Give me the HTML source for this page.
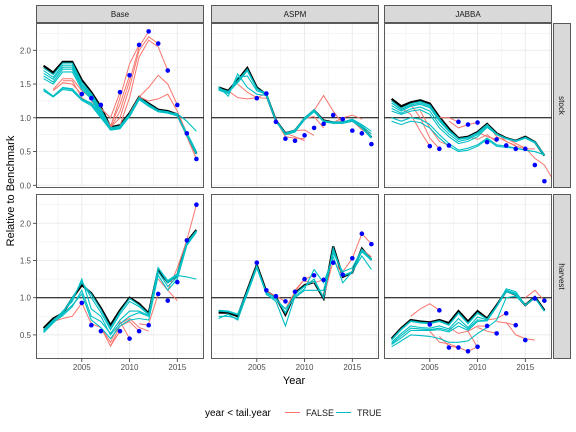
<!DOCTYPE html>
<html><head><meta charset="utf-8"><style>
body{margin:0;background:#fff;}
svg{display:block;font-family:"Liberation Sans",sans-serif;}
</style></head><body>
<svg id="chart" width="576" height="432" viewBox="0 0 576 432"></svg>
<script>
const years=[2001,2002,2003,2004,2005,2006,2007,2008,2009,2010,2011,2012,2013,2014,2015,2016,2017];
const colLabels=["Base","ASPM","JABBA"];
const rowLabels=["stock","harvest"];
const xTicks=[2005,2010,2015];
const yTicksStock=[0.0,0.5,1.0,1.5,2.0];
const yTicksHarvest=[0.5,1.0,1.5,2.0];

// Base stock
const baseStockBlack=[1.77,1.67,1.83,1.83,1.56,1.38,1.16,0.86,0.89,1.07,1.31,1.21,1.12,1.10,1.05,0.75,0.47];
const baseStockTeal=[
[1.74,1.64,1.81,1.81,1.53,1.36,1.13,0.85,0.88,1.06,1.30,1.20,1.11,1.09,1.04,0.74,0.46],
[1.70,1.60,1.78,1.78,1.50,1.34,1.10,0.84,0.86,1.05,1.29,1.19,1.11,1.09,1.04,0.74,0.46],
[1.66,1.57,1.75,1.75,1.48,1.32,1.08,0.83,0.85,1.04,1.29,1.19,1.10,1.08,1.04,0.75,0.47],
[1.62,1.53,1.72,1.72,1.45,1.30,1.05,0.82,0.84,1.03,1.28,1.18,1.10,1.08,1.03,0.75,0.47],
[1.58,1.50,1.68,1.68,1.42,1.28,1.03,0.82,0.84,1.03,1.28,1.18,1.10,1.08,1.03,0.75,0.47],
[1.43,1.32,1.45,1.43,1.28,1.22,1.05,0.83,0.85,1.03,1.28,1.18,1.10,1.08,1.06,0.95,0.80],
[1.42,1.32,1.44,1.42,1.27,1.20,1.02,0.82,0.85,1.02,1.27,1.17,1.09,1.07,1.03,0.78,0.50],
[1.40,1.31,1.42,1.40,1.26,1.18,1.00,0.82,0.84,1.02,1.27,1.17,1.09,1.07,1.03,0.78,0.50]];
const baseStockRedStart=[2002,2002,2003,2006,2006,2007,2007,2008,2009,2010,2011,2014];
const baseStockRed=[
[1.40,1.52,1.50,1.35],[1.42,1.58,1.58,1.40,1.29],[1.55,1.55,1.30,1.20,1.19],
[1.25,1.14,1.00,1.38],[1.25,1.10,0.88,1.20,1.63],[1.10,0.86,1.30,1.80,2.08],
[1.10,0.85,1.10,1.55,2.05,2.28],[0.86,1.00,1.45,2.00,2.20,2.10],[0.89,1.30,1.90,2.15,2.05,1.70],
[1.07,1.31,1.45,1.63,1.50,1.19],[1.31,1.25,1.28,1.35,1.10,0.77],[1.08,1.03,0.72,0.39]];
const baseStockPtYear=[2005,2006,2007,2009,2010,2011,2012,2013,2014,2015,2016,2017];
const baseStockPtVal=[1.35,1.29,1.19,1.38,1.63,2.08,2.28,2.10,1.70,1.19,0.77,0.39];

// ASPM stock
const aspmStockBlack=[1.45,1.40,1.56,1.74,1.45,1.34,0.96,0.77,0.81,0.99,1.11,0.96,0.93,0.93,0.96,0.86,0.71];
const aspmStockTeal=[
[1.44,1.39,1.55,1.72,1.44,1.33,0.95,0.76,0.80,0.98,1.10,0.95,0.92,0.92,0.95,0.85,0.70],
[1.43,1.37,1.53,1.70,1.43,1.33,0.95,0.76,0.80,0.98,1.09,0.95,0.92,0.92,0.95,0.85,0.70],
[1.46,1.32,1.65,1.45,1.35,1.33,0.95,0.75,0.79,0.97,1.09,0.94,0.92,0.93,0.97,0.88,0.76],
[1.42,1.38,1.52,1.70,1.43,1.36,0.96,0.77,0.82,1.00,1.12,0.95,0.94,0.94,0.96,0.86,0.72],
[1.41,1.36,1.60,1.62,1.40,1.35,0.96,0.77,0.81,0.99,1.10,0.96,0.93,0.94,0.98,0.90,0.80]];
const aspmStockRedStart=[2002,2003,2007,2008,2009,2010,2011,2013,2015];
const aspmStockRed=[
[1.40,1.30,1.28,1.30,1.29],[1.50,1.38,1.30,1.36],[0.96,0.72,0.70,0.69],[0.77,0.72,0.66],
[0.81,0.82,0.74],[0.99,1.02,0.85],[1.11,1.33,1.10,0.91],[0.93,1.00,1.04,0.98],[0.96,0.82,0.77]];
const aspmStockPtYear=[2005,2006,2007,2008,2009,2010,2011,2012,2013,2014,2015,2016,2017];
const aspmStockPtVal=[1.29,1.36,0.94,0.69,0.66,0.74,0.85,0.91,1.04,0.98,0.81,0.77,0.61];

// JABBA stock
const jabbaStockBlack=[1.28,1.17,1.23,1.26,1.21,1.01,0.84,0.70,0.72,0.79,0.91,0.77,0.70,0.66,0.72,0.64,0.44];
const jabbaStockTeal=[
[1.25,1.14,1.21,1.24,1.19,0.99,0.82,0.69,0.71,0.78,0.90,0.76,0.69,0.66,0.71,0.64,0.45],
[1.22,1.12,1.19,1.22,1.17,0.97,0.81,0.69,0.71,0.78,0.90,0.76,0.69,0.66,0.71,0.64,0.45],
[1.18,1.10,1.17,1.20,1.15,0.95,0.80,0.68,0.70,0.77,0.89,0.76,0.70,0.66,0.70,0.64,0.45],
[1.14,1.07,1.13,1.16,1.10,0.90,0.76,0.65,0.68,0.75,0.88,0.75,0.69,0.65,0.70,0.63,0.44],
[1.10,1.05,1.10,1.12,1.05,0.85,0.72,0.62,0.65,0.72,0.86,0.75,0.69,0.65,0.70,0.63,0.44],
[1.00,0.95,1.00,0.98,0.90,0.75,0.62,0.52,0.55,0.60,0.70,0.60,0.58,0.55,0.52,0.50,0.45],
[0.95,0.90,0.95,0.93,0.85,0.70,0.58,0.50,0.52,0.58,0.68,0.58,0.56,0.55,0.52,0.50,0.45]];
const jabbaStockRedStart=[2002,2003,2004,2006,2007,2009,2010,2011,2012,2013];
const jabbaStockRed=[
[1.15,1.05,0.80,0.58],[1.20,1.00,0.70,0.54],[1.10,0.85,0.65,0.59],[1.00,1.00,0.94],
[0.95,0.85,0.90,0.93],[0.72,0.68,0.75,0.64],[0.79,0.72,0.68],[0.91,0.72,0.65,0.59],
[0.77,0.65,0.58,0.54,0.54],[0.70,0.62,0.55,0.40,0.30,0.06]];
const jabbaStockPtYear=[2005,2006,2007,2008,2009,2010,2011,2012,2013,2014,2015,2016,2017];
const jabbaStockPtVal=[0.58,0.54,0.59,0.94,0.90,0.93,0.64,0.68,0.59,0.54,0.54,0.30,0.06];

// Base harvest
const baseHarvBlack=[0.59,0.72,0.79,0.99,1.17,1.06,0.86,0.63,0.83,1.00,0.92,0.79,1.37,1.21,1.30,1.75,1.91];
const baseHarvTeal=[
[0.57,0.70,0.80,1.00,1.20,1.05,0.84,0.60,0.81,0.99,0.90,0.78,1.40,1.23,1.32,1.74,1.90],
[0.56,0.69,0.79,0.98,1.22,1.00,0.80,0.57,0.78,0.95,0.88,0.77,1.40,1.22,1.31,1.74,1.90],
[0.55,0.68,0.82,0.95,1.25,0.85,0.75,0.50,0.65,0.75,0.80,0.75,1.40,1.20,1.30,1.28,1.25],
[0.53,0.66,0.78,0.90,1.05,0.70,0.60,0.45,0.62,0.70,0.72,0.70,1.30,1.10,1.25,1.70,1.88],
[0.54,0.67,0.76,0.88,1.10,0.75,0.68,0.52,0.70,0.82,0.82,0.76,1.35,1.15,1.28,1.72,1.89]];
const baseHarvRedStart=[2002,2005,2007,2008,2009,2011,2012,2013,2014];
const baseHarvRed=[
[0.68,0.72,0.75,0.93],[0.93,0.65,0.60,0.35,0.55],[0.60,0.40,0.68,0.45],[0.35,0.62,0.68,0.55],
[0.65,0.72,0.60,0.55],[0.65,0.63],[0.65,1.05],[1.25,1.10,0.96],[1.10,1.40,1.77,2.25]];
const baseHarvPtYear=[2005,2006,2007,2009,2010,2011,2012,2013,2014,2015,2016,2017];
const baseHarvPtVal=[0.93,0.63,0.55,0.55,0.45,0.55,0.63,1.05,0.96,1.21,1.77,2.25];

// ASPM harvest
const aspmHarvBlack=[0.80,0.80,0.75,1.10,1.44,1.08,1.01,0.77,1.06,1.17,1.21,0.99,1.69,1.28,1.34,1.66,1.51];
const aspmHarvTeal=[
[0.83,0.82,0.78,1.08,1.42,1.06,1.00,0.80,1.05,1.15,1.25,1.00,1.65,1.30,1.35,1.62,1.50],
[0.82,0.81,0.77,1.09,1.43,1.07,1.00,0.79,1.05,1.16,1.22,1.00,1.67,1.29,1.34,1.64,1.51],
[0.75,0.75,0.72,1.05,1.40,1.05,0.95,0.62,1.02,1.12,1.38,1.20,1.55,1.20,1.35,1.56,1.38],
[0.72,0.78,0.70,1.06,1.43,1.04,0.98,0.85,1.00,1.10,1.10,1.10,1.60,1.35,1.40,1.65,1.52]];
const aspmHarvRedStart=[2006,2008,2009,2010,2012,2014,2015];
const aspmHarvRed=[[1.08,1.02,0.95],[0.85,1.08,1.25],[1.10,1.25,1.30],[1.22,1.20,1.24],
[1.00,1.50,1.31],[1.35,1.53,1.86,1.72],[1.40,1.65,1.55]];
const aspmHarvPtYear=[2005,2006,2007,2008,2009,2010,2011,2012,2013,2014,2015,2016,2017];
const aspmHarvPtVal=[1.47,1.10,1.02,0.95,1.08,1.25,1.30,1.24,1.47,1.31,1.53,1.86,1.72];

// JABBA harvest
const jabbaHarvBlack=[0.45,0.59,0.70,0.68,0.67,0.70,0.66,0.82,0.68,0.82,0.72,0.90,1.09,1.04,0.90,1.01,0.83];
const jabbaHarvTeal=[
[0.44,0.58,0.69,0.67,0.66,0.69,0.64,0.80,0.66,0.80,0.71,0.89,1.12,1.08,0.90,1.00,0.82],
[0.43,0.57,0.68,0.66,0.65,0.68,0.63,0.79,0.65,0.79,0.71,0.89,1.10,1.06,0.90,1.00,0.82],
[0.40,0.52,0.62,0.60,0.59,0.62,0.58,0.72,0.60,0.74,0.70,0.88,1.10,1.05,0.90,1.00,0.82],
[0.38,0.49,0.59,0.58,0.57,0.59,0.56,0.67,0.58,0.70,0.69,0.88,1.09,1.04,0.90,1.00,0.82],
[0.37,0.46,0.56,0.56,0.56,0.57,0.54,0.62,0.56,0.68,0.69,0.88,1.08,1.04,0.90,1.00,0.82],
[0.34,0.42,0.50,0.49,0.48,0.45,0.40,0.40,0.42,0.52,0.60,0.70,1.00,1.02,0.90,1.00,0.82]];
const jabbaHarvRedStart=[2003,2005,2006,2007,2009,2010,2011,2012,2013,2015];
const jabbaHarvRed=[[0.75,0.85,0.92,0.83],[0.55,0.40,0.38,0.33],[0.48,0.35,0.33,0.28,0.34],
[0.60,0.52,0.55,0.33],[0.55,0.62,0.62],[0.60,0.55,0.52],[0.70,0.72,0.79],[0.68,0.66,0.63],
[0.67,0.50,0.45,0.43],[1.00,1.10,0.96]];
const jabbaHarvPtYear=[2005,2006,2007,2008,2009,2010,2011,2012,2013,2014,2015,2016,2017];
const jabbaHarvPtVal=[0.64,0.83,0.33,0.33,0.28,0.34,0.62,0.52,0.79,0.63,0.43,0.99,0.96];

const panels=[
{c:0,r:0,black:baseStockBlack,teal:baseStockTeal,rs:baseStockRedStart,red:baseStockRed,py:baseStockPtYear,pv:baseStockPtVal},
{c:1,r:0,black:aspmStockBlack,teal:aspmStockTeal,rs:aspmStockRedStart,red:aspmStockRed,py:aspmStockPtYear,pv:aspmStockPtVal},
{c:2,r:0,black:jabbaStockBlack,teal:jabbaStockTeal,rs:jabbaStockRedStart,red:jabbaStockRed,py:jabbaStockPtYear,pv:jabbaStockPtVal},
{c:0,r:1,black:baseHarvBlack,teal:baseHarvTeal,rs:baseHarvRedStart,red:baseHarvRed,py:baseHarvPtYear,pv:baseHarvPtVal},
{c:1,r:1,black:aspmHarvBlack,teal:aspmHarvTeal,rs:aspmHarvRedStart,red:aspmHarvRed,py:aspmHarvPtYear,pv:aspmHarvPtVal},
{c:2,r:1,black:jabbaHarvBlack,teal:jabbaHarvTeal,rs:jabbaHarvRedStart,red:jabbaHarvRed,py:jabbaHarvPtYear,pv:jabbaHarvPtVal}];

const svg=document.getElementById('chart');
const NS='http://www.w3.org/2000/svg';
function mk(tag,attrs,parent){const e=document.createElementNS(NS,tag);for(const k in attrs)e.setAttribute(k,attrs[k]);(parent||svg).appendChild(e);return e;}
const colX=[36,211,384], PW=168;
const rowY=[23,194], PH=165;
function xs(c,yr){return colX[c]+7.6+(yr-2001)*9.55;}
function ys(r,v){return r===0?185.3-v*67.5:297.7-(v-1)*74.4;}
const RED='#F8766D', TEAL='#00BFC4';

panels.forEach(p=>{
 const g=mk('g',{});
 
 
 const x0=colX[p.c], y0=rowY[p.r];
 mk('rect',{x:x0,y:y0,width:PW,height:PH,fill:'#fff'},g);
 const clip=mk('clipPath',{id:'cp'+p.c+p.r},g);
 mk('rect',{x:x0,y:y0,width:PW,height:PH},clip);
 const inner=mk('g',{'clip-path':'url(#cp'+p.c+p.r+')'},g);
 for(let yr=2000;yr<=2020;yr+=2.5){const x=xs(p.c,yr);mk('line',{x1:x,x2:x,y1:y0,y2:y0+PH,stroke:'#EBEBEB','stroke-width':yr%5===0?1:0.5},inner);}
 for(let v=0;v<=2.5;v+=0.25){const y=ys(p.r,v);mk('line',{x1:x0,x2:x0+PW,y1:y,y2:y,stroke:'#EBEBEB','stroke-width':(v*2)%1===0?1:0.5},inner);}
 const yr1=ys(p.r,1);
 const ref=mk('line',{x1:x0,x2:x0+PW,y1:yr1,y2:yr1,stroke:'#000','stroke-width':1},inner);
 
 
 function pathOf(start,vals){return vals.map((v,i)=>(i?'L':'M')+xs(p.c,start+i).toFixed(1)+','+ys(p.r,v).toFixed(1)).join('');}
 const bl=mk('path',{d:pathOf(2001,p.black),fill:'none',stroke:'#000','stroke-width':2.2},inner);
 
 
 p.red.forEach((t,i)=>{const e=mk('path',{d:pathOf(p.rs[i],t),fill:'none',stroke:RED,'stroke-width':1},inner);
  
  });
 p.teal.forEach(t=>{const e=mk('path',{d:pathOf(2001,t),fill:'none',stroke:TEAL,'stroke-width':1.1},inner);
  
  });
 p.py.forEach((yr,i)=>{const e=mk('circle',{cx:xs(p.c,yr),cy:ys(p.r,p.pv[i]),r:2.3,fill:'#0000FF'},inner);
  
  });
 mk('rect',{x:x0+0.5,y:y0+0.5,width:PW-1,height:PH-1,fill:'none',stroke:'#333','stroke-width':0.8},g);
 if(p.r===1){xTicks.forEach(t=>{const x=xs(p.c,t);mk('line',{x1:x,x2:x,y1:y0+PH,y2:y0+PH+3,stroke:'#333','stroke-width':0.8},g);
  const tx=mk('text',{x:x,y:y0+PH+11,'font-size':8,fill:'#4D4D4D','text-anchor':'middle'},g);tx.textContent=t;
  
  });}
 if(p.c===0){(p.r===0?yTicksStock:yTicksHarvest).forEach(t=>{const y=ys(p.r,t);mk('line',{x1:x0-3,x2:x0,y1:y,y2:y,stroke:'#333','stroke-width':0.8},g);
  const tx=mk('text',{x:x0-5,y:y+3,'font-size':8,fill:'#4D4D4D','text-anchor':'end'},g);tx.textContent=t.toFixed(1);
  
  });}
});
colLabels.forEach((l,c)=>{const g=mk('g',{});
 
 
 mk('rect',{x:colX[c]+0.5,y:5.5,width:PW-1,height:17,fill:'#D9D9D9',stroke:'#333','stroke-width':0.8},g);
 const t=mk('text',{x:colX[c]+PW/2,y:17,'font-size':8,fill:'#1A1A1A','text-anchor':'middle'},g);t.textContent=l;});
rowLabels.forEach((l,r)=>{const g=mk('g',{});
 
 
 mk('rect',{x:553.5,y:rowY[r]+0.5,width:17,height:PH-1,fill:'#D9D9D9',stroke:'#333','stroke-width':0.8},g);
 const cy=rowY[r]+PH/2;
 const t=mk('text',{x:559,y:cy,'font-size':8,fill:'#1A1A1A','text-anchor':'middle',transform:'rotate(90 559 '+cy+')'},g);t.textContent=l;});
</script>
<svg width="576" height="432" style="position:absolute;left:0;top:0" font-family="Liberation Sans, sans-serif">
<text x="14" y="191" font-size="11" text-anchor="middle" transform="rotate(-90 14 191)">Relative to Benchmark</text>
<text x="294" y="384" font-size="11" text-anchor="middle">Year</text>
<g>
<text x="205" y="416" font-size="10">year &lt; tail.year</text>
<line x1="285" x2="300" y1="412.5" y2="412.5" stroke="#F8766D" stroke-width="1"/>
<text x="306" y="416" font-size="9" fill="#1A1A1A">FALSE</text>
<line x1="336" x2="351" y1="412.5" y2="412.5" stroke="#00BFC4" stroke-width="1"/>
<text x="357" y="416" font-size="9" fill="#1A1A1A">TRUE</text>
</g>
</svg>
</body></html>
